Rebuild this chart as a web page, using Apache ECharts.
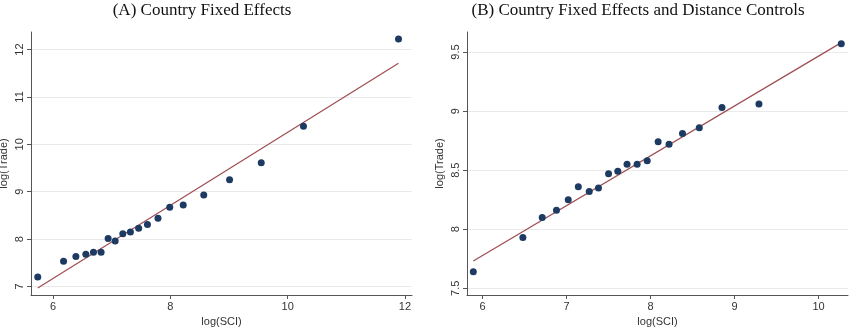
<!DOCTYPE html>
<html>
<head>
<meta charset="utf-8">
<script src="https://cdn.jsdelivr.net/npm/echarts@6/dist/echarts.min.js"></script>
<style>html,body{margin:0;padding:0;background:#fff}#c{width:850px;height:327px}</style>
</head>
<body>
<div id="c"></div>
<script>
// Panel A: Country Fixed Effects
const sciA = [5.74, 6.18, 6.39, 6.56, 6.69, 6.82, 6.94, 7.06, 7.19, 7.32, 7.46, 7.61, 7.79, 7.99, 8.22, 8.57, 9.01, 9.55, 10.27, 11.89];
const tradeA = [7.20, 7.53, 7.63, 7.68, 7.72, 7.72, 8.01, 7.96, 8.11, 8.15, 8.23, 8.31, 8.44, 8.67, 8.72, 8.93, 9.25, 9.61, 10.38, 12.22];
const fitA_x = [5.74, 11.89];
const fitA_y = [6.97, 11.71];
const xTicksA = [6, 8, 10, 12];
const yTicksA = [7, 8, 9, 10, 11, 12];

// Panel B: Country Fixed Effects and Distance Controls
const sciB = [5.89, 6.48, 6.71, 6.88, 7.02, 7.14, 7.27, 7.38, 7.50, 7.61, 7.72, 7.84, 7.96, 8.09, 8.22, 8.38, 8.58, 8.85, 9.29, 10.27];
const tradeB = [7.64, 7.93, 8.10, 8.16, 8.25, 8.36, 8.32, 8.35, 8.47, 8.49, 8.55, 8.55, 8.58, 8.74, 8.72, 8.81, 8.86, 9.03, 9.06, 9.57];
const fitB_x = [5.89, 10.27];
const fitB_y = [7.73, 9.58];
const xTicksB = [6, 7, 8, 9, 10];
const yTicksB = [7.5, 8, 8.5, 9, 9.5];

const titles = ['(A) Country Fixed Effects', '(B) Country Fixed Effects and Distance Controls'];

const dotColor = '#1d3b62';
const lineColor = '#9e4d52';
const axisColor = '#555';
const labelFont = { fontFamily: 'Liberation Sans, Arial, sans-serif', fontSize: 11, color: '#333' };

function pairs(xs, ys) { return xs.map((x, i) => [x, ys[i]]); }

function xAxis(idx, min, max, ticks) {
  return {
    type: 'value', gridIndex: idx, min: min, max: max,
    name: 'log(SCI)', nameLocation: 'middle', nameGap: 20,
    nameTextStyle: labelFont,
    axisLine: { show: true, lineStyle: { color: axisColor, width: 1 } },
    axisTick: { show: true, length: 4, lineStyle: { color: axisColor }, customValues: ticks },
    axisLabel: Object.assign({ margin: 6, customValues: ticks }, labelFont),
    splitLine: { show: false }
  };
}
function yAxis(idx, min, max, ticks) {
  return {
    type: 'value', gridIndex: idx, min: min, max: max,
    name: 'log(Trade)', nameLocation: 'middle', nameGap: 22,
    nameTextStyle: labelFont,
    axisLine: { show: true, lineStyle: { color: axisColor, width: 1 } },
    axisTick: { show: true, length: 4, lineStyle: { color: axisColor }, customValues: ticks },
    axisLabel: Object.assign({ margin: 6, rotate: 90, customValues: ticks }, labelFont),
    splitLine: { show: true, lineStyle: { color: '#eaeaea', width: 1 } }
  };
}

const titleStyle = { fontFamily: 'Liberation Serif, Times New Roman, serif', fontSize: 17, fontWeight: 'normal', color: '#111' };

const chart = echarts.init(document.getElementById('c'), null, { renderer: 'canvas' });
chart.setOption({
  backgroundColor: '#fff',
  animation: false,
  title: [
    { text: titles[0], left: 197, top: -3, textAlign: 'center', textStyle: titleStyle },
    { text: titles[1], left: 633, top: -3, textAlign: 'center', textStyle: titleStyle }
  ],
  grid: [
    { left: 31, top: 32, width: 381, height: 263, outerBoundsMode: 'none', containLabel: false },
    { left: 467, top: 32, width: 381, height: 263, outerBoundsMode: 'none', containLabel: false }
  ],
  xAxis: [xAxis(0, 5.625, 12.12, xTicksA), xAxis(1, 5.815, 10.35, xTicksB)],
  yAxis: [yAxis(0, 6.82, 12.37, yTicksA), yAxis(1, 7.443, 9.67, yTicksB)],
  series: [
    { type: 'line', xAxisIndex: 0, yAxisIndex: 0, data: pairs(fitA_x, fitA_y), symbol: 'none',
      lineStyle: { color: lineColor, width: 1.2 }, z: 2 },
    { type: 'scatter', xAxisIndex: 0, yAxisIndex: 0, data: pairs(sciA, tradeA), symbolSize: 7,
      itemStyle: { color: dotColor, opacity: 1 }, z: 3 },
    { type: 'line', xAxisIndex: 1, yAxisIndex: 1, data: pairs(fitB_x, fitB_y), symbol: 'none',
      lineStyle: { color: lineColor, width: 1.2 }, z: 2 },
    { type: 'scatter', xAxisIndex: 1, yAxisIndex: 1, data: pairs(sciB, tradeB), symbolSize: 7,
      itemStyle: { color: dotColor, opacity: 1 }, z: 3 }
  ]
});
</script>
</body>
</html>
